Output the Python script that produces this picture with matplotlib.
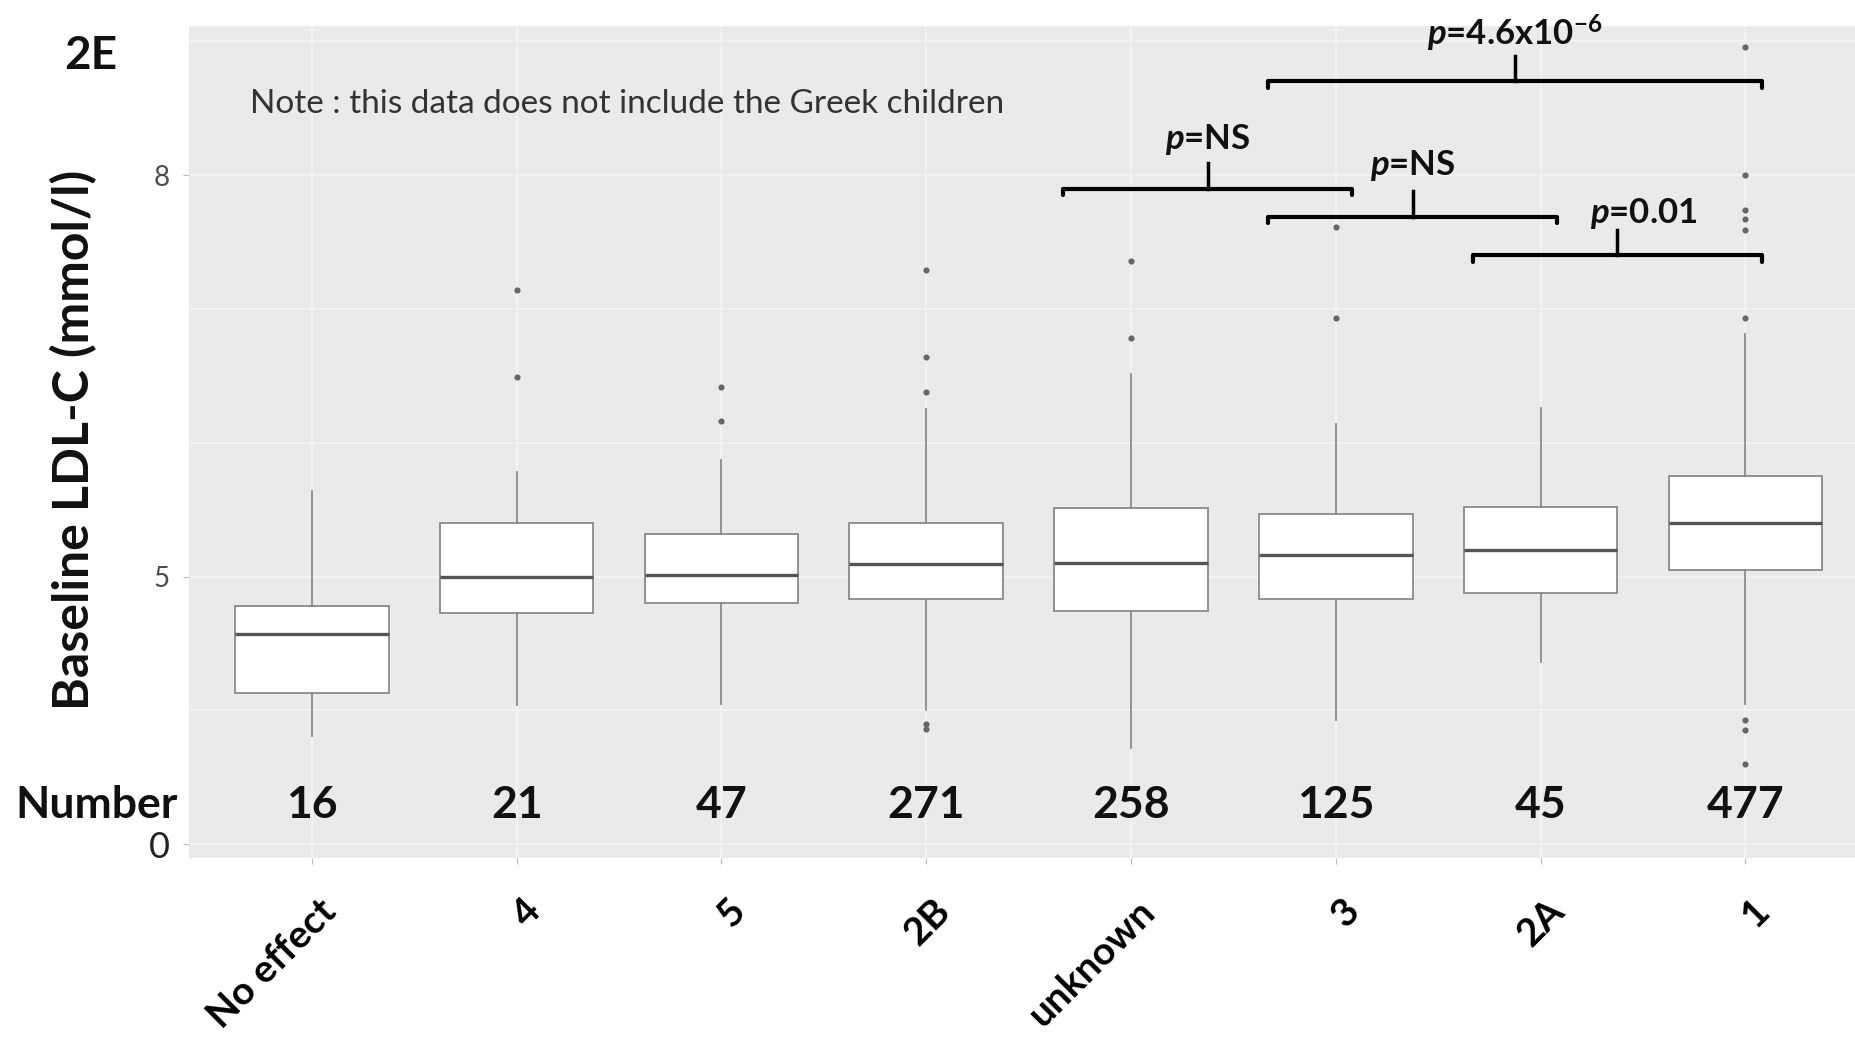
import matplotlib
matplotlib.use("Agg")
import matplotlib.pyplot as plt
import matplotlib.transforms as mtransforms

# ---------------- data ----------------
categories = ["No effect", "4", "5", "2B", "unknown", "3", "2A", "1"]
counts = [16, 21, 47, 271, 258, 125, 45, 477]
whisker_low = [3.81, 4.04, 4.05, 4.00, 3.72, 3.93, 4.36, 4.05]
q1 = [4.13, 4.73, 4.80, 4.83, 4.74, 4.83, 4.88, 5.05]
median = [4.57, 5.00, 5.01, 5.09, 5.10, 5.16, 5.20, 5.40]
q3 = [4.78, 5.40, 5.32, 5.40, 5.51, 5.47, 5.52, 5.75]
whisker_high = [5.64, 5.78, 5.87, 6.25, 6.51, 6.14, 6.26, 6.81]
outliers = [
    [],
    [7.14, 6.49],
    [6.42, 6.16],
    [7.29, 6.64, 6.38, 3.90, 3.86],
    [7.36, 6.78],
    [7.61, 6.93],
    [],
    [8.96, 8.00, 7.74, 7.67, 7.59, 6.93, 3.93, 3.85, 3.60],
]
comparisons = [("unknown", "3"), ("3", "2A"), ("2A", "1"), ("3", "1")]
p_labels = ["NS", "NS", "0.01", "4.6x10$^{-6}$"]
bracket_y = [7.90, 7.69, 7.40, 8.70]
note_text = "Note : this data does not include the Greek children"
ytick_values = [3, 5, 8]
ytick_labels = ["0", "5", "8"]

# ---------------- style ----------------
plt.rcParams["font.family"] = ["Lato", "DejaVu Sans"]
plt.rcParams["mathtext.fontset"] = "custom"
plt.rcParams["mathtext.rm"] = "Lato:bold"
plt.rcParams["mathtext.it"] = "Lato:bold:italic"
plt.rcParams["mathtext.bf"] = "Lato:bold"

fig = plt.figure(figsize=(18.56, 10.47), dpi=100)
ax = fig.add_axes([0.1018, 0.1805, 0.8982, 0.7947])
ax.set_facecolor("#EAEAEA")
for s in ax.spines.values():
    s.set_visible(False)

positions = list(range(1, len(categories) + 1))
stats = []
for i in range(len(categories)):
    stats.append(dict(med=median[i], q1=q1[i], q3=q3[i],
                      whislo=whisker_low[i], whishi=whisker_high[i],
                      fliers=outliers[i]))

ax.bxp(stats, positions=positions, widths=0.75, patch_artist=True,
       showcaps=False,
       boxprops=dict(facecolor="white", edgecolor="#8A8A8A", linewidth=1.3),
       whiskerprops=dict(color="#8A8A8A", linewidth=1.3),
       medianprops=dict(color="#555555", linewidth=2.4),
       flierprops=dict(marker="o", markersize=3.4, markerfacecolor="#666666",
                       markeredgecolor="#666666", linestyle="none"),
       zorder=3)

ax.set_xlim(0.4, 8.54)
ax.set_ylim(2.896, 9.115)

# grid
ax.set_axisbelow(True)
ax.set_yticks(ytick_values)
ax.set_yticklabels(ytick_labels)
ax.set_yticks([4, 6, 7, 9], minor=True)
ax.grid(which="both", axis="y", color="#F3F3F3", linewidth=1.4)
ax.set_xticks(positions)
ax.set_xticklabels(categories, rotation=45, ha="right", va="center",
                   rotation_mode="anchor", fontsize=28, fontweight="bold")
ax.grid(which="major", axis="x", color="#F3F3F3", linewidth=1.4)
ax.tick_params(axis="x", length=4, color="#BBBBBB", pad=30)
ax.tick_params(axis="y", which="major", length=4, color="#BBBBBB", pad=10,
               labelsize=20, labelcolor="#4D4D4D")
ax.tick_params(axis="y", which="minor", length=0)
shift = mtransforms.ScaledTranslation(0.18, 0, fig.dpi_scale_trans)
for lab in ax.get_xticklabels():
    lab.set_transform(lab.get_transform() + shift)
for lab in ax.get_yticklabels():
    if lab.get_text() == "0":
        lab.set_fontsize(26)
        lab.set_color("#222222")

# y label
ax.set_ylabel("Baseline LDL-C (mmol/l)", fontsize=36, fontweight="bold",
              color="#111111")
ax.yaxis.set_label_coords(-0.055, 0.503)

# panel label and note
fig.text(91 / 1856, 1 - 56 / 1047, "2E", fontsize=33, fontweight="bold",
         ha="center", va="center", color="#111111")
ax.text(0.70, 8.53, note_text, fontsize=24, color="#333333",
        ha="left", va="center")

# counts row
blend = mtransforms.blended_transform_factory(fig.transFigure, ax.transData)
ax.text(15 / 1856, 3.29, "Number", transform=blend, fontsize=32,
        fontweight="bold", ha="left", va="center", color="#111111")
for pos, n in zip(positions, counts):
    ax.text(pos, 3.29, str(n), fontsize=32, fontweight="bold",
            ha="center", va="center", color="#111111")

# significance brackets
text_dx = [0.0, 0.0, 0.13, 0.0]
text_dy = [0.37, 0.38, 0.31, 0.36]
for (a, b), lab, y, dx, dy in zip(comparisons, p_labels, bracket_y, text_dx, text_dy):
    xa = categories.index(a) + 1 - 0.33
    xb = categories.index(b) + 1 + 0.08
    xc = (xa + xb) / 2
    ax.plot([xa, xa, xb, xb], [y - 0.05, y, y, y - 0.05], color="black",
            linewidth=3, solid_capstyle="round", solid_joinstyle="round",
            zorder=4, clip_on=False)
    ax.plot([xc, xc], [y, y + 0.19], color="black", linewidth=2.5, zorder=4)
    ax.text(xc + dx, y + dy, r"$\mathit{p}$=" + lab, fontsize=25,
            fontweight="bold", ha="center", va="center", color="#111111")

fig.savefig("out.png", dpi=100, facecolor="white")
